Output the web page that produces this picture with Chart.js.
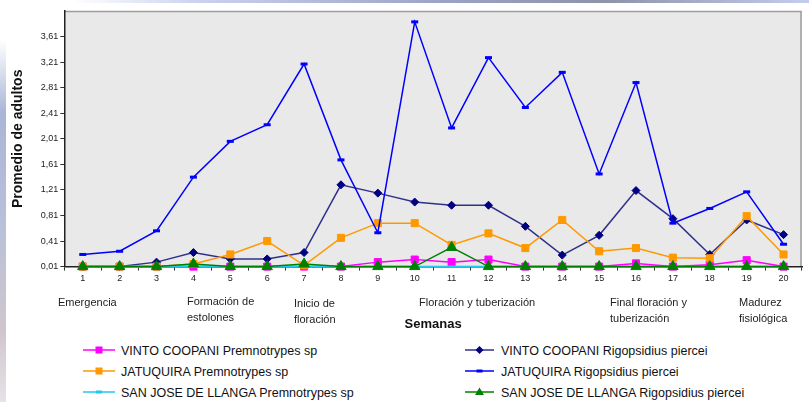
<!doctype html>
<html lang="es">
  <head>
    <meta charset="utf-8">
    <title>Promedio de adultos por semana</title>
    <style>
      * {
        margin: 0;
        padding: 0;
      }
      body {
        width: 809px;
        height: 402px;
        overflow: hidden;
        background: #ffffff;
        position: relative;
        font-family: "Liberation Sans", Arial, sans-serif;
      }
      .stripTop {
        position: absolute;
        left: 0; top: 0;
        width: 809px; height: 3px;
        background: linear-gradient(to right, #ffffff 0%, #ffffff 9%, #c9d1ee 25%, #9aa3c4 55%, #8d93a8 75%, #c3cdee 100%);
      }
      .stripLeft {
        position: absolute;
        left: 0; top: 40px;
        width: 6px; height: 362px;
        background: linear-gradient(to bottom, #ffffff 0%, #aab6d6 20%, #b8c0da 50%, #cfc6cc 80%, #e6e2e6 100%);
      }
      .chartBox {
        position: absolute;
        left: 0; top: 0;
        width: 809px;
        height: 340px;
      }
      .phase {
        position: absolute;
        font-size: 11px;
        line-height: 16px;
        color: #222;
        white-space: nowrap;
      }
      .legend {
        position: absolute;
        font-size: 12.5px;
        color: #111;
        white-space: nowrap;
        line-height: 14px;
      }
      .legend svg {
        position: absolute;
        top: -2px;
      }
      .legend span {
        position: absolute;
        top: 0;
      }
    </style>
  </head>
  <body>
    <div class="stripTop"></div>
    <div class="stripLeft"></div>
    <div class="chartBox">
      <canvas id="myChart" width="809" height="340"></canvas>
    </div>

    <div class="phase" style="left:58px; top:294px;">Emergencia</div>
    <div class="phase" style="left:187px; top:293px;">Formación de<br>estolones</div>
    <div class="phase" style="left:294px; top:295px;">Inicio de<br>floración</div>
    <div class="phase" style="left:419px; top:294px;">Floración y tuberización</div>
    <div class="phase" style="left:610px; top:294px;">Final floración y<br>tuberización</div>
    <div class="phase" style="left:739px; top:294px;">Madurez<br>fisiológica</div>

    <div id="legend"></div>

    <script src="https://cdn.jsdelivr.net/npm/chart.js/dist/chart.umd.min.js"></script>
    <script>
      // data
      const weeks = ['1', '2', '3', '4', '5', '6', '7', '8', '9', '10',
                     '11', '12', '13', '14', '15', '16', '17', '18', '19', '20'];
      const yTicks = [0.01, 0.41, 0.81, 1.21, 1.61, 2.01, 2.41, 2.81, 3.21, 3.61];

      const vintoPrem = [0.01, 0.01, 0.01, 0.01, 0.01, 0.01, 0.01, 0.01, 0.08, 0.12,
                         0.08, 0.12, 0.01, 0.01, 0.01, 0.06, 0.01, 0.04, 0.11, 0.01];
      const vintoRigo = [0.01, 0.01, 0.08, 0.23, 0.13, 0.13, 0.23, 1.29, 1.16, 1.02,
                         0.97, 0.97, 0.64, 0.19, 0.50, 1.20, 0.76, 0.20, 0.74, 0.51];
      const jatuPrem  = [0.01, 0.01, 0.01, 0.05, 0.20, 0.41, 0.03, 0.46, 0.69, 0.69,
                         0.35, 0.53, 0.30, 0.74, 0.25, 0.30, 0.15, 0.14, 0.80, 0.20];
      const jatuRigo  = [0.20, 0.25, 0.57, 1.41, 1.97, 2.23, 3.18, 1.68, 0.54, 3.84,
                         2.18, 3.28, 2.50, 3.05, 1.46, 2.89, 0.69, 0.92, 1.18, 0.36];
      const sjPrem    = [0.01, 0.01, 0.01, 0.01, 0.01, 0.01, 0.01, 0.01, 0.01, 0.01,
                         0.01, 0.01, 0.01, 0.01, 0.01, 0.01, 0.01, 0.01, 0.01, 0.01];
      const sjRigo    = [0.01, 0.01, 0.01, 0.05, 0.01, 0.01, 0.05, 0.01, 0.01, 0.01,
                         0.31, 0.01, 0.01, 0.01, 0.01, 0.01, 0.01, 0.01, 0.01, 0.01];

      const series = [
        { label: 'VINTO COOPANI Premnotrypes sp', data: vintoPrem, line: '#ff00ff', fill: '#ff00ff', style: 'rect', r: 5, bw: 1 },
        { label: 'VINTO COOPANI Rigopsidius piercei', data: vintoRigo, line: '#30308c', fill: '#000080', style: 'rectRot', r: 4, bw: 1 },
        { label: 'JATUQUIRA Premnotrypes sp', data: jatuPrem, line: '#ff9900', fill: '#ff9900', style: 'rect', r: 5, bw: 1 },
        { label: 'JATUQUIRA Rigopsidius piercei', data: jatuRigo, line: '#0000ff', fill: '#0000ff', style: 'line', r: 3.5, bw: 3 },
        { label: 'SAN JOSE DE LLANGA Premnotrypes sp', data: sjPrem, line: '#22c8f0', fill: '#22c8f0', style: 'line', r: 3, bw: 2 },
        { label: 'SAN JOSE DE LLANGA Rigopsidius piercei', data: sjRigo, line: '#008000', fill: '#008000', style: 'triangle', r: 6, bw: 1 }
      ];

      // plot background with top/right frame
      const plotBg = {
        id: 'plotBg',
        beforeDraw(chart) {
          const { ctx, chartArea: { left, top, right, bottom } } = chart;
          ctx.save();
          ctx.fillStyle = '#e9e9e9';
          ctx.fillRect(left, top, right - left, bottom - top);
          ctx.strokeStyle = '#9c9c9c';
          ctx.lineWidth = 1.5;
          ctx.beginPath();
          ctx.moveTo(left, top + 0.5);
          ctx.lineTo(right - 1, top + 0.5);
          ctx.lineTo(right - 1, bottom);
          ctx.stroke();
          ctx.restore();
        }
      };

      const config = {
        type: 'line',
        data: {
          labels: weeks,
          datasets: series.map((s, i) => ({
            label: s.label,
            data: s.data,
            borderColor: s.line,
            borderWidth: 1.5,
            pointStyle: s.style,
            pointRadius: s.r,
            pointBackgroundColor: s.fill,
            pointBorderColor: s.fill,
            pointBorderWidth: s.bw,
            tension: 0,
            clip: false,
            order: 5 - i
          }))
        },
        options: {
          responsive: false,
          animation: false,
          layout: { padding: { left: 10, top: 11, right: 0, bottom: 8 } },
          plugins: {
            legend: { display: false },
            tooltip: { enabled: false }
          },
          scales: {
            x: {
              offset: true,
              grid: { drawOnChartArea: false, offset: true, tickLength: 4, color: '#333', lineWidth: 1 },
              border: { color: '#222', width: 1.5 },
              ticks: { color: '#222', font: { size: 9, family: 'Liberation Sans' }, padding: 3, maxRotation: 0 },
              title: {
                display: true,
                text: 'Semanas',
                color: '#111',
                font: { size: 13, weight: 'bold', family: 'Liberation Sans' },
                padding: { top: 29, bottom: 0 }
              }
            },
            y: {
              min: 0.01,
              max: 4.01,
              afterBuildTicks(scale) {
                scale.ticks = yTicks.map(v => ({ value: v }));
              },
              grid: { drawOnChartArea: false, tickLength: 4, color: '#333' },
              border: { color: '#222', width: 1.5 },
              ticks: {
                color: '#222',
                font: { size: 9, family: 'Liberation Sans' },
                padding: 2,
                callback: v => v.toFixed(2).replace('.', ',')
              },
              title: {
                display: true,
                text: 'Promedio de adultos',
                color: '#111',
                font: { size: 14, weight: 'bold', family: 'Liberation Sans' },
                padding: { top: 0, bottom: 12 }
              }
            }
          }
        },
        plugins: [plotBg]
      };

      const myChart = new Chart(document.getElementById('myChart'), config);

      // legend in two columns, like the original
      function markerSvg(s, w) {
        const cx = w / 2, cy = 8;
        let m = '';
        if (s.style === 'rect') {
          m = `<rect x="${cx - 3.5}" y="${cy - 3.5}" width="7" height="7" fill="${s.fill}"/>`;
        } else if (s.style === 'rectRot') {
          m = `<polygon points="${cx},${cy - 4} ${cx + 4},${cy} ${cx},${cy + 4} ${cx - 4},${cy}" fill="${s.fill}"/>`;
        } else if (s.style === 'triangle') {
          m = `<polygon points="${cx},${cy - 4.5} ${cx + 4.5},${cy + 3} ${cx - 4.5},${cy + 3}" fill="${s.fill}"/>`;
        } else {
          m = `<rect x="${cx - 3}" y="${cy - 1.5}" width="6" height="3" fill="${s.fill}"/>`;
        }
        return `<svg width="${w}" height="16"><line x1="0" y1="${cy}" x2="${w}" y2="${cy}" stroke="${s.line}" stroke-width="1.5"/>${m}</svg>`;
      }

      const legendBox = document.getElementById('legend');
      const rowsY = [344, 365, 386];
      series.forEach((s, i) => {
        const col = i % 2;
        const row = Math.floor(i / 2);
        const item = document.createElement('div');
        item.className = 'legend';
        item.style.left = (col === 0 ? 83 : 465) + 'px';
        item.style.top = rowsY[row] + 'px';
        const w = col === 0 ? 32 : 29;
        item.innerHTML = markerSvg(s, w) + `<span style="left:${col === 0 ? 38 : 36}px">${s.label}</span>`;
        legendBox.appendChild(item);
      });
    </script>
  </body>
</html>
